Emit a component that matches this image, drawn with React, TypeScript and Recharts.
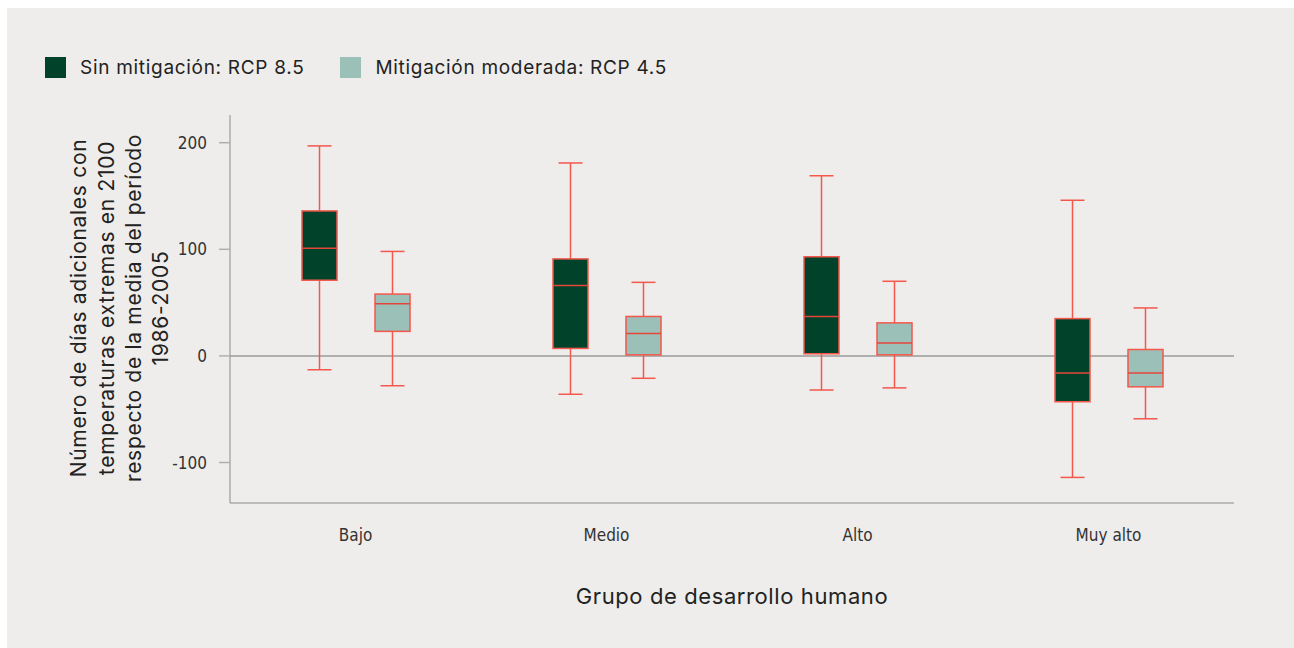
import { ComposedChart, Bar, XAxis, YAxis, CartesianGrid } from "recharts";

const groups = ["Bajo", "Medio", "Alto", "Muy alto"];

// Sin mitigación: RCP 8.5
const rcp85Min = [-13, -36, -32, -114];
const rcp85Q1 = [71, 7, 2, -43];
const rcp85Median = [101, 66, 37, -16];
const rcp85Q3 = [136, 91, 93, 35];
const rcp85Max = [197, 181, 169, 146];

// Mitigación moderada: RCP 4.5
const rcp45Min = [-28, -21, -30, -59];
const rcp45Q1 = [23, 1, 1, -29];
const rcp45Median = [49, 21, 12, -16];
const rcp45Q3 = [58, 37, 31, 6];
const rcp45Max = [98, 69, 70, 45];

const yTicks = [-100, 0, 100, 200];

const yTitle = [
  "Número de días adicionales con",
  "temperaturas extremas en 2100",
  "respecto de la media del período",
  "1986-2005",
];

const legendItems = [
  { label: "Sin mitigación: RCP 8.5", color: "#00432a" },
  { label: "Mitigación moderada: RCP 4.5", color: "#9bc0b8" },
];

const DARK = "#00432a";
const LIGHT = "#9bc0b8";
const RED = "#f4574b";
const TITLE_FONT = "Inter, 'Noto Sans', sans-serif";
const TICK_FONT = "'DejaVu Sans Condensed', 'Roboto', sans-serif";

const data = groups.map((g, i) => ({
  group: g,
  rcp85: { min: rcp85Min[i], q1: rcp85Q1[i], median: rcp85Median[i], q3: rcp85Q3[i], max: rcp85Max[i] },
  rcp45: { min: rcp45Min[i], q1: rcp45Q1[i], median: rcp45Median[i], q3: rcp45Q3[i], max: rcp45Max[i] },
}));

function makeBoxShape(key: "rcp85" | "rcp45", fill: string) {
  return (props: any) => {
    const { x, y, width, height, payload } = props;
    const s = payload[key];
    const top = Math.min(y, y + height);
    const bottom = Math.max(y, y + height);
    const k = (bottom - top) / (s.max - s.min);
    const py = (v: number) => bottom - (v - s.min) * k;
    const cx = x + width / 2;
    const cap = 12;
    return (
      <g>
        <line x1={cx} x2={cx} y1={py(s.max)} y2={py(s.q3)} stroke={RED} strokeWidth={1.5} />
        <line x1={cx} x2={cx} y1={py(s.q1)} y2={py(s.min)} stroke={RED} strokeWidth={1.5} />
        <line x1={cx - cap} x2={cx + cap} y1={py(s.max)} y2={py(s.max)} stroke={RED} strokeWidth={1.5} />
        <line x1={cx - cap} x2={cx + cap} y1={py(s.min)} y2={py(s.min)} stroke={RED} strokeWidth={1.5} />
        <rect
          x={x}
          y={py(s.q3)}
          width={width}
          height={py(s.q1) - py(s.q3)}
          fill={fill}
          stroke={RED}
          strokeWidth={1.5}
        />
        <line x1={x} x2={x + width} y1={py(s.median)} y2={py(s.median)} stroke="#e4463a" strokeWidth={1.5} />
      </g>
    );
  };
}

function YTitle() {
  const baselines = [79, 106.5, 134, 161];
  return (
    <g>
      {yTitle.map((line, i) => (
        <text
          key={line}
          transform={`translate(${baselines[i]}, 300) rotate(-90)`}
          textAnchor="middle"
          fontFamily={TITLE_FONT}
          fontSize={21}
          letterSpacing={0.7}
          fill="#222"
        >
          {line}
        </text>
      ))}
    </g>
  );
}

export default function App() {
  return (
    <div style={{ position: "absolute", left: 7, top: 8, width: 1287, height: 640, background: "#eeedeb" }}>
      <div
        style={{
          position: "absolute",
          top: 49,
          left: 38,
          display: "flex",
          alignItems: "center",
          fontFamily: TITLE_FONT,
          fontSize: 19,
          letterSpacing: 0.7,
          color: "#222",
          height: 21,
        }}
      >
        {legendItems.map((it) => (
          <div key={it.label} style={{ display: "flex", alignItems: "center", marginRight: 36 }}>
            <span style={{ width: 21, height: 21, background: it.color, display: "inline-block", marginRight: 14 }} />
            <span>{it.label}</span>
          </div>
        ))}
      </div>
      <ComposedChart
        width={1287}
        height={640}
        data={data}
        margin={{ top: 107, right: 60, left: 0, bottom: 0 }}
        barSize={35}
        barGap={38}
      >
        <CartesianGrid vertical={false} horizontalValues={[0]} stroke="#9a9a9a" strokeWidth={1.5} />
        <XAxis
          dataKey="group"
          height={145}
          tickLine={false}
          tickSize={0}
          tickMargin={26}
          axisLine={{ stroke: "#8a8a8a", strokeWidth: 1 }}
          tick={{ fontFamily: TICK_FONT, fontSize: 17, fill: "#333" }}
          label={{
            value: "Grupo de desarrollo humano",
            position: "insideBottom",
            offset: 44,
            style: { fontFamily: TITLE_FONT, fontSize: 22, letterSpacing: 0.6, fill: "#222" },
          }}
        />
        <YAxis
          type="number"
          domain={[-138, 226]}
          ticks={yTicks}
          width={223}
          tickSize={11}
          tickMargin={12}
          axisLine={{ stroke: "#8a8a8a", strokeWidth: 1 }}
          tickLine={{ stroke: "#b0b0b0", strokeWidth: 1.5 }}
          tick={{ fontFamily: TICK_FONT, fontSize: 17, fill: "#333" }}
          allowDataOverflow
          label={<YTitle />}
        />
        <Bar
          dataKey={(d: any) => [d.rcp85.min, d.rcp85.max]}
          fill={DARK}
          shape={makeBoxShape("rcp85", DARK)}
          isAnimationActive={false}
        />
        <Bar
          dataKey={(d: any) => [d.rcp45.min, d.rcp45.max]}
          fill={LIGHT}
          shape={makeBoxShape("rcp45", LIGHT)}
          isAnimationActive={false}
        />
      </ComposedChart>
    </div>
  );
}
